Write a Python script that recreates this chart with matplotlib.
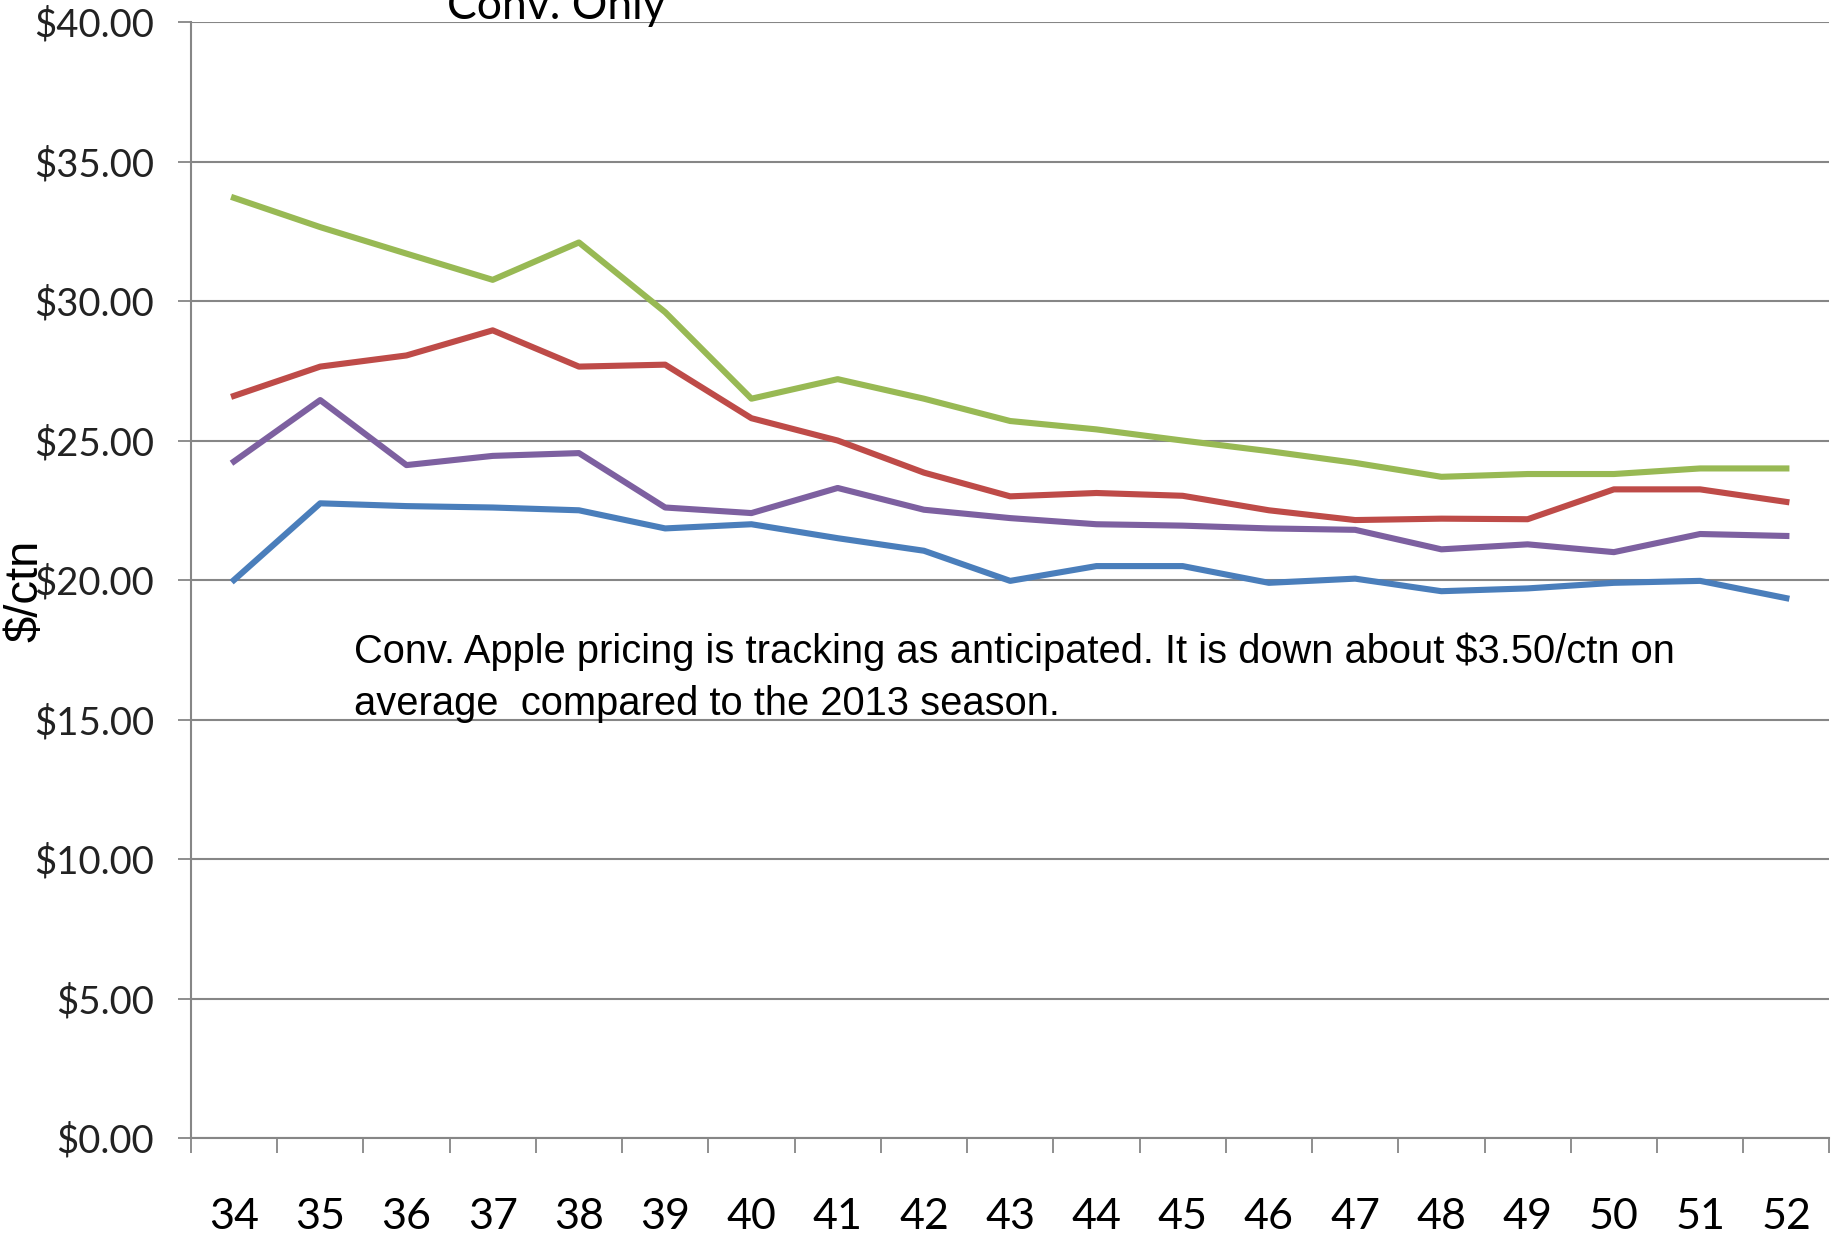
import matplotlib
matplotlib.use("Agg")
import matplotlib.pyplot as plt
from matplotlib.ticker import FixedLocator, FuncFormatter

# weekly carton prices, weeks 34-52
weeks = [34, 35, 36, 37, 38, 39, 40, 41, 42, 43, 44, 45, 46, 47, 48, 49, 50, 51, 52]
blue_prices = [20.00, 22.75, 22.65, 22.60, 22.50, 21.85, 22.00, 21.50, 21.05, 19.97,
               20.50, 20.50, 19.90, 20.05, 19.60, 19.70, 19.90, 19.97, 19.35]
red_prices = [26.60, 27.65, 28.05, 28.95, 27.65, 27.72, 25.80, 25.00, 23.85, 23.00,
              23.12, 23.02, 22.50, 22.15, 22.20, 22.18, 23.25, 23.25, 22.80]
green_prices = [33.70, 32.65, 31.70, 30.76, 32.10, 29.60, 26.50, 27.20, 26.50, 25.70,
                25.40, 25.00, 24.62, 24.20, 23.70, 23.80, 23.80, 24.00, 24.00]
purple_prices = [24.25, 26.45, 24.12, 24.45, 24.55, 22.60, 22.40, 23.30, 22.52, 22.22,
                 22.00, 21.95, 21.85, 21.80, 21.10, 21.28, 21.00, 21.65, 21.58]
y_ticks = [0, 5, 10, 15, 20, 25, 30, 35, 40]

series = [
    (blue_prices, "#4a7ebb"),
    (red_prices, "#be4b48"),
    (green_prices, "#98b954"),
    (purple_prices, "#7d60a0"),
]

grid_grey = "#868686"
calibri_like = ["Lato", "DejaVu Sans"]

fig = plt.figure(figsize=(18.35, 12.39), dpi=100)
ax = fig.add_axes([0.104, 0.0815, 0.893, 0.9007])

x = list(range(len(weeks)))
for values, color in series:
    ax.plot(x, values, color=color, linewidth=4.4, solid_joinstyle="round", zorder=3)

ax.set_xlim(-0.5, len(weeks) - 0.5)
ax.set_ylim(0, 40)

# category labels centred, tick marks on the category boundaries
ax.set_xticks(x)
ax.set_xticklabels([str(w) for w in weeks], fontsize=31, family=calibri_like)
ax.tick_params(axis="x", which="major", length=0, pad=43)
ax.xaxis.set_minor_locator(FixedLocator([i - 0.5 for i in range(len(weeks) + 1)]))
ax.tick_params(axis="x", which="minor", length=11, width=1.3, color=grid_grey,
               direction="out")

ax.set_yticks(y_ticks)
ax.yaxis.set_major_formatter(FuncFormatter(lambda v, _: f"${v:.2f}"))
ax.tick_params(axis="y", length=9.5, width=1.3, color=grid_grey, pad=17, labelsize=27.5)
for lbl in ax.get_yticklabels():
    lbl.set_family(calibri_like)
    lbl.set_color("#222222")

ax.grid(axis="y", color=grid_grey, linewidth=1.5, zorder=1)
for side in ("top", "right"):
    ax.spines[side].set_visible(False)
for side in ("left", "bottom"):
    ax.spines[side].set_color(grid_grey)
    ax.spines[side].set_linewidth(1.5)

fig.text(0.002, 0.523, "$/ctn", rotation=90, fontsize=34, family="Liberation Sans",
         ha="left", va="center")

fig.text(0.303, 0.985, "Conv. Only", fontsize=32, family=calibri_like,
         ha="center", va="baseline")

ax.text(1.39, 16.5,
        "Conv. Apple pricing is tracking as anticipated. It is down about $3.50/ctn on\n"
        "average  compared to the 2013 season.",
        fontsize=28.7, family="Liberation Sans", ha="left", va="center",
        linespacing=1.45)

fig.savefig("out.png", dpi=100)
